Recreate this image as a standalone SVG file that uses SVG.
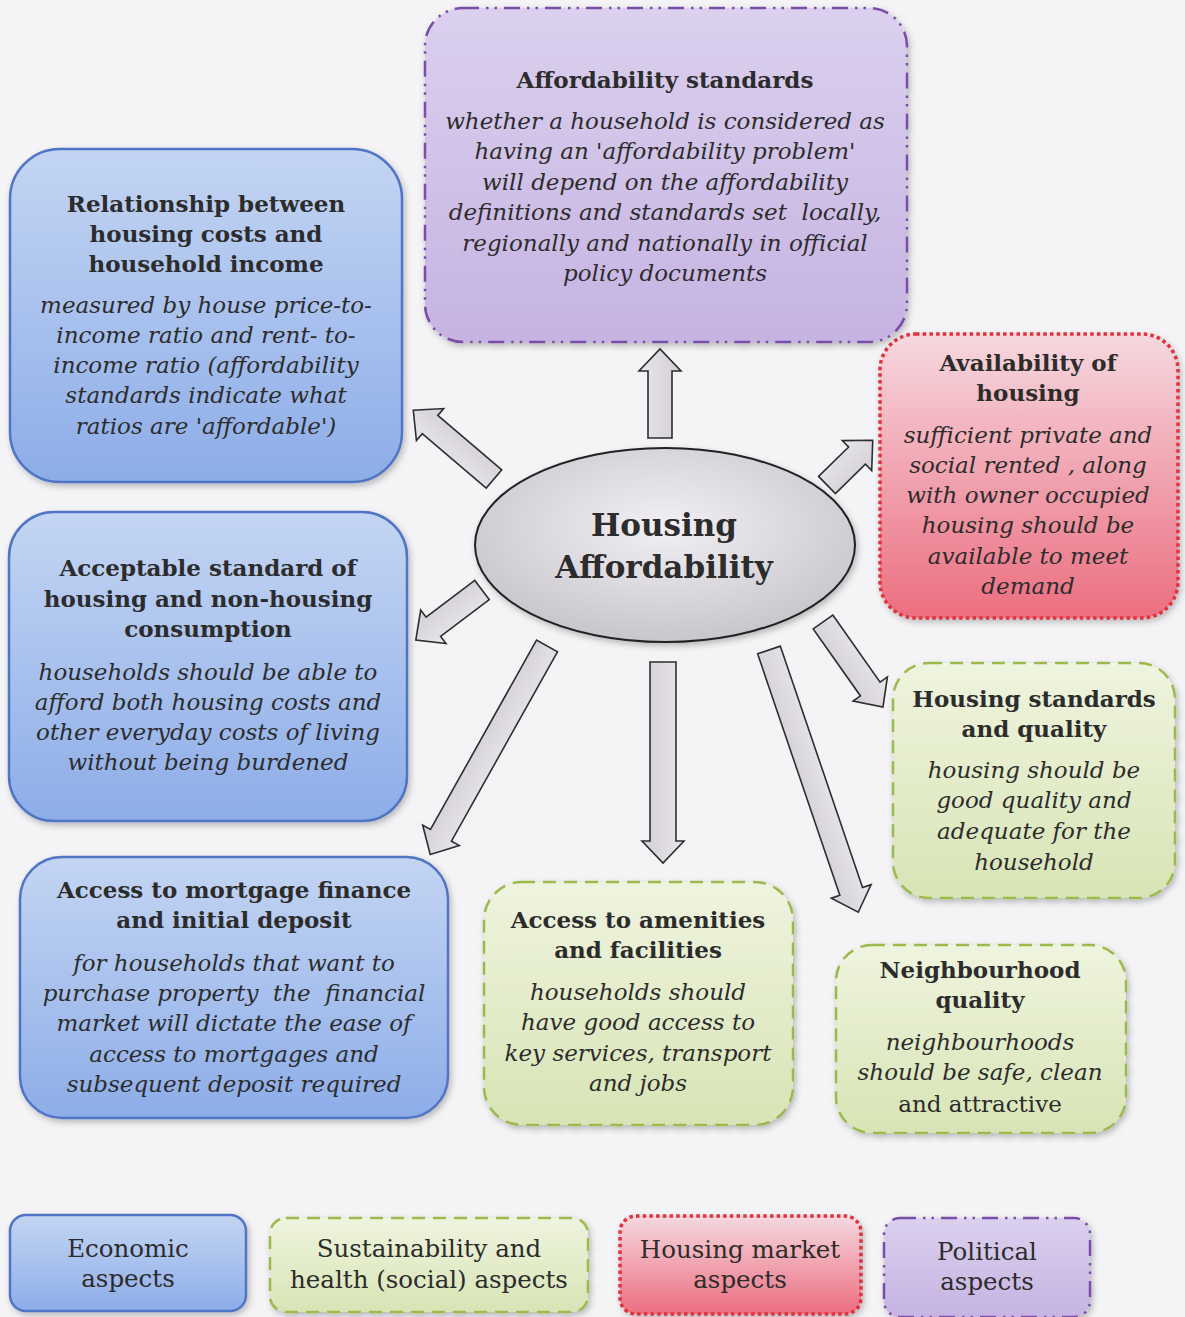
<svg xmlns="http://www.w3.org/2000/svg" width="1185" height="1317" viewBox="0 0 1185 1317">
<defs>
<linearGradient id="gBlue" x1="0" y1="0" x2="0" y2="1"><stop offset="0" stop-color="#c4d5f3"/><stop offset="1" stop-color="#8dade8"/></linearGradient>
<linearGradient id="gPurple" x1="0" y1="0" x2="0" y2="1"><stop offset="0" stop-color="#dbd0ee"/><stop offset="1" stop-color="#c6b3e2"/></linearGradient>
<linearGradient id="gRed" x1="0" y1="0" x2="0" y2="1"><stop offset="0" stop-color="#f6d8df"/><stop offset="1" stop-color="#ec6e80"/></linearGradient>
<linearGradient id="gGreen" x1="0" y1="0" x2="0" y2="1"><stop offset="0" stop-color="#eff4df"/><stop offset="1" stop-color="#d8e4b5"/></linearGradient>
<radialGradient id="gEll" cx="0.5" cy="0.4" r="0.6"><stop offset="0" stop-color="#f2f0f4"/><stop offset="1" stop-color="#c9c5cd"/></radialGradient>
<linearGradient id="gArr" x1="0" y1="0" x2="0" y2="1"><stop offset="0" stop-color="#e9e7eb"/><stop offset="1" stop-color="#d2ced5"/></linearGradient>
<filter id="sh" x="-10%" y="-10%" width="120%" height="125%"><feDropShadow dx="2" dy="3" stdDeviation="3" flood-color="#000" flood-opacity="0.25"/></filter>
</defs>
<style>
.blue{fill:url(#gBlue);stroke:#4f74c4;stroke-width:2.5}
.purple{fill:url(#gPurple);stroke:#7a4ea6;stroke-width:2.5;stroke-dasharray:16 7 2.5 6 2.5 7}
.red{fill:url(#gRed);stroke:#e0303c;stroke-width:3.5;stroke-dasharray:3.5 3.2}
.green{fill:url(#gGreen);stroke:#9cba4c;stroke-width:2.5;stroke-dasharray:13 8}
text{font-family:"DejaVu Serif","Liberation Serif",serif;fill:#2c2c2c;text-anchor:middle;white-space:pre}
.t{font-weight:bold;font-size:23px}
.i{font-style:italic;font-size:23px}
.r{font-size:23px}
.l{font-size:24.5px}
.c{font-weight:bold;font-size:31px}
.arr{fill:url(#gArr);stroke:#2e2e2e;stroke-width:1.6;stroke-linejoin:miter}
</style>
<rect width="1185" height="1317" fill="#f4f3f6"/>

<g id="connectors">
<polygon class="arr" points="0,-12 67,-12 67,-21 89,0 67,21 67,12 0,12" transform="translate(660,438) rotate(-90)"/>
<polygon class="arr" points="0,-12 84,-12 84,-21 106,0 84,21 84,12 0,12" transform="translate(494,479) rotate(-139.6)"/>
<polygon class="arr" points="0,-12 42,-12 42,-21 64,0 42,21 42,12 0,12" transform="translate(827,485) rotate(-44.4)"/>
<polygon class="arr" points="0,-12 61,-12 61,-21 83,0 61,21 61,12 0,12" transform="translate(482,590) rotate(142.9)"/>
<polygon class="arr" points="0,-12 217,-12 217,-21 239,0 217,21 217,12 0,12" transform="translate(547,646) rotate(119.25)"/>
<polygon class="arr" points="0,-13 179,-13 179,-21 201,0 179,21 179,13 0,13" transform="translate(663,662) rotate(90)"/>
<polygon class="arr" points="0,-12 255,-12 255,-21 277,0 255,21 255,12 0,12" transform="translate(769,650) rotate(71.2)"/>
<polygon class="arr" points="0,-12 82,-12 82,-21 104,0 82,21 82,12 0,12" transform="translate(823,622) rotate(54.8)"/>
</g>

<g id="center">
<ellipse cx="665" cy="545" rx="190" ry="97" fill="url(#gEll)" stroke="#222" stroke-width="2" filter="url(#sh)"/>
<text class="c" x="664" y="536">Housing</text>
<text class="c" x="664" y="578">Affordability</text>
</g>

<g id="affordability-standards">
<rect class="purple" x="425" y="8" width="482" height="334" rx="38" filter="url(#sh)"/>
<text class="t" x="665" y="88">Affordability standards</text>
<text class="i" x="665" y="129">whether a household is considered as</text>
<text class="i" x="665" y="159">having an 'affordability problem'</text>
<text class="i" x="665" y="190">will depend on the affordability</text>
<text class="i" x="665" y="220">definitions and standards set  locally,</text>
<text class="i" x="665" y="251">regionally and nationally in official</text>
<text class="i" x="665" y="281">policy documents</text>
</g>

<g id="relationship">
<rect class="blue" x="10" y="149" width="392" height="333" rx="50" filter="url(#sh)"/>
<text class="t" x="206" y="212">Relationship between</text>
<text class="t" x="206" y="242">housing costs and</text>
<text class="t" x="206" y="272">household income</text>
<text class="i" x="206" y="313">measured by house price-to-</text>
<text class="i" x="206" y="343">income ratio and rent- to-</text>
<text class="i" x="206" y="373">income ratio (affordability</text>
<text class="i" x="206" y="403">standards indicate what</text>
<text class="i" x="206" y="434">ratios are 'affordable')</text>
</g>

<g id="acceptable-standard">
<rect class="blue" x="9" y="512" width="398" height="309" rx="45" filter="url(#sh)"/>
<text class="t" x="208" y="576">Acceptable standard of</text>
<text class="t" x="208" y="607">housing and non-housing</text>
<text class="t" x="208" y="637">consumption</text>
<text class="i" x="208" y="680">households should be able to</text>
<text class="i" x="208" y="710">afford both housing costs and</text>
<text class="i" x="208" y="740">other everyday costs of living</text>
<text class="i" x="208" y="770">without being burdened</text>
</g>

<g id="mortgage">
<rect class="blue" x="20" y="857" width="428" height="261" rx="42" filter="url(#sh)"/>
<text class="t" x="234" y="898">Access to mortgage finance</text>
<text class="t" x="234" y="928">and initial deposit</text>
<text class="i" x="234" y="971">for households that want to</text>
<text class="i" x="234" y="1001">purchase property  the  financial</text>
<text class="i" x="234" y="1031">market will dictate the ease of</text>
<text class="i" x="234" y="1062">access to mortgages and</text>
<text class="i" x="234" y="1092">subsequent deposit required</text>
</g>

<g id="amenities">
<rect class="green" x="484" y="882" width="309" height="243" rx="38" filter="url(#sh)"/>
<text class="t" x="638" y="928">Access to amenities</text>
<text class="t" x="638" y="958">and facilities</text>
<text class="i" x="638" y="1000">households should</text>
<text class="i" x="638" y="1030">have good access to</text>
<text class="i" x="638" y="1061">key services, transport</text>
<text class="i" x="638" y="1091">and jobs</text>
</g>

<g id="neighbourhood">
<rect class="green" x="836" y="945" width="290" height="188" rx="36" filter="url(#sh)"/>
<text class="t" x="980" y="978">Neighbourhood</text>
<text class="t" x="980" y="1008">quality</text>
<text class="i" x="980" y="1050">neighbourhoods</text>
<text class="i" x="980" y="1080">should be safe, clean</text>
<text class="r" x="980" y="1112">and attractive</text>
</g>

<g id="housing-standards">
<rect class="green" x="893" y="663" width="282" height="235" rx="36" filter="url(#sh)"/>
<text class="t" x="1034" y="707">Housing standards</text>
<text class="t" x="1034" y="737">and quality</text>
<text class="i" x="1034" y="778">housing should be</text>
<text class="i" x="1034" y="808">good quality and</text>
<text class="i" x="1034" y="839">adequate for the</text>
<text class="i" x="1034" y="870">household</text>
</g>

<g id="availability">
<rect class="red" x="880" y="334" width="298" height="284" rx="36" filter="url(#sh)"/>
<text class="t" x="1028" y="371">Availability of</text>
<text class="t" x="1028" y="401">housing</text>
<text class="i" x="1028" y="443">sufficient private and</text>
<text class="i" x="1028" y="473">social rented , along</text>
<text class="i" x="1028" y="503">with owner occupied</text>
<text class="i" x="1028" y="533">housing should be</text>
<text class="i" x="1028" y="564">available to meet</text>
<text class="i" x="1028" y="594">demand</text>
</g>

<g id="legend-economic">
<rect class="blue" x="10" y="1215" width="236" height="96" rx="16" filter="url(#sh)"/>
<text class="l" x="128" y="1257">Economic</text>
<text class="l" x="128" y="1287">aspects</text>
</g>
<g id="legend-social">
<rect class="green" x="270" y="1218" width="318" height="94" rx="16" filter="url(#sh)"/>
<text class="l" x="429" y="1257">Sustainability and</text>
<text class="l" x="429" y="1288">health (social) aspects</text>
</g>
<g id="legend-market">
<rect class="red" x="620" y="1216" width="241" height="98" rx="16" filter="url(#sh)"/>
<text class="l" x="740" y="1258">Housing market</text>
<text class="l" x="740" y="1288">aspects</text>
</g>
<g id="legend-political">
<rect class="purple" x="884" y="1218" width="206" height="99" rx="16" filter="url(#sh)"/>
<text class="l" x="987" y="1260">Political</text>
<text class="l" x="987" y="1290">aspects</text>
</g>
</svg>
